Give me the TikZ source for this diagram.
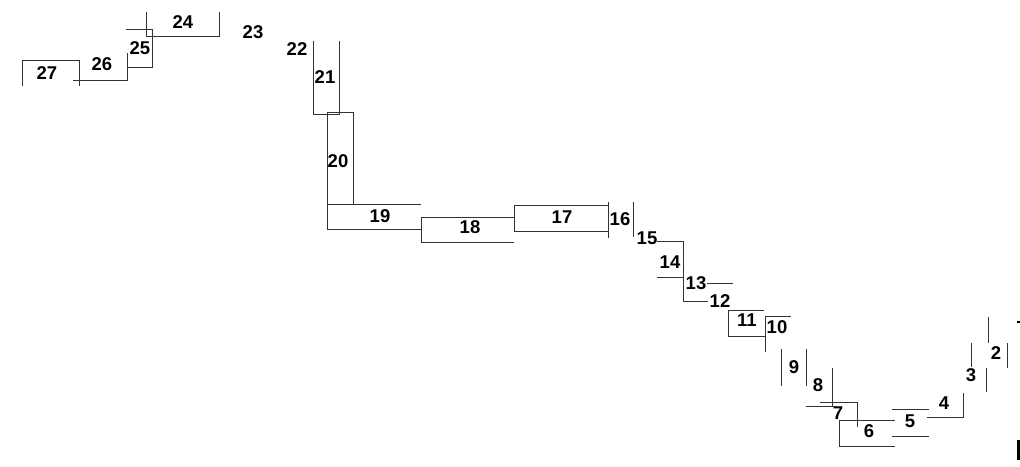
\documentclass[tikz,border=0pt]{standalone}
\usepackage{fontspec}
\setmainfont{Liberation Sans}
\begin{document}
\begin{tikzpicture}[x=1pt,y=-1pt,
  lbl/.style={inner sep=0pt,font=\fontsize{18.5}{19}\selectfont\bfseries},
  seg/.style={draw=black!80,line width=0.9pt}]
\useasboundingbox (0,0) rectangle (1020,466);
% labels
\node[lbl] (l24) at (183,22) {24};
\node[lbl] (l25) at (140,48) {25};
\node[lbl] (l26) at (102,64) {26};
\node[lbl] (l27) at (47,73) {27};
\node[lbl] (l23) at (253,32) {23};
\node[lbl] (l22) at (297,49) {22};
\node[lbl] (l21) at (325,77) {21};
\node[lbl] (l20) at (338,161) {20};
\node[lbl] (l19) at (380,216) {19};
\node[lbl] (l18) at (470,227) {18};
\node[lbl] (l17) at (562,217) {17};
\node[lbl] (l16) at (620,219) {16};
\node[lbl] (l15) at (647,238) {15};
\node[lbl] (l14) at (670,262) {14};
\node[lbl] (l13) at (696,283) {13};
\node[lbl] (l12) at (720,301) {12};
\node[lbl] (l11) at (747,320) {11};
\node[lbl] (l10) at (777,327) {10};
\node[lbl] (l9) at (794,367) {9};
\node[lbl] (l8) at (818,385) {8};
\node[lbl] (l7) at (838,413) {7};
\node[lbl] (l6) at (869,431) {6};
\node[lbl] (l5) at (910,421) {5};
\node[lbl] (l4) at (944,403) {4};
\node[lbl] (l3) at (971,375) {3};
\node[lbl] (l2) at (996,353) {2};
% segments
\draw[seg] (146,12) -- (146,36) -- (219,36) -- (219,12);
\draw[seg] (126,29) -- (152,29) -- (152,67) -- (127,67);
\draw[seg] (127,53) -- (127,80) -- (73,80);
\draw[seg] (22,86) -- (22,60) -- (79,60) -- (79,86);
\draw[seg] (313,41) -- (313,114) -- (339,114) -- (339,41);
\draw[seg] (327,112) rectangle (353,204);
\draw[seg] (421,204) -- (327,204) -- (327,229) -- (421,229);
\draw[seg] (514,217) -- (421,217) -- (421,242) -- (514,242);
\draw[seg] (514,205) rectangle (608,231);
\draw[seg] (608,202) -- (608,238);
\draw[seg] (633,202) -- (633,237);
\draw[seg] (657,241) -- (683,241) -- (683,301) -- (708,301);
\draw[seg] (657,277) -- (683,277);
\draw[seg] (707,283) -- (733,283);
\draw[seg] (764,310) -- (728,310) -- (728,336) -- (765,336);
\draw[seg] (791,316) -- (765,316) -- (765,352);
\draw[seg] (781,349) -- (781,386);
\draw[seg] (806,349) -- (806,386);
\draw[seg] (832,368) -- (832,407);
\draw[seg] (806,406) -- (837,406);
\draw[seg] (820,402) -- (857,402) -- (857,427);
\draw[seg] (895,420) -- (839,420) -- (839,446) -- (895,446);
\draw[seg] (892,409) -- (929,409);
\draw[seg] (892,436) -- (929,436);
\draw[seg] (927,417) -- (963,417) -- (963,393);
\draw[seg] (971,343) -- (971,367);
\draw[seg] (986,368) -- (986,392);
\draw[seg] (988,317) -- (988,343);
\draw[seg] (1007,343) -- (1007,368);
\draw[line width=1.2pt] (1017,322) -- (1020,322);
\draw[line width=4pt] (1019,440) -- (1019,460);
\end{tikzpicture}
\end{document}
